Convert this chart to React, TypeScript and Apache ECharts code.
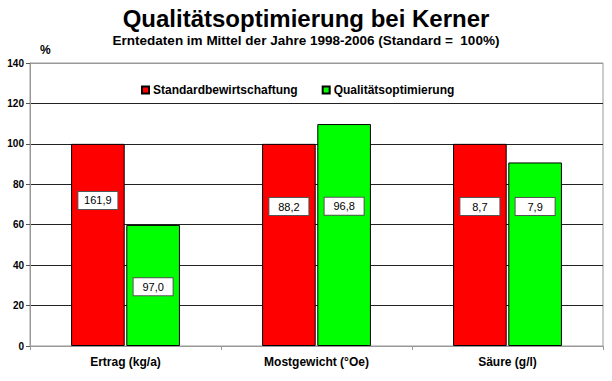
import React, { useEffect, useRef } from "react";
import * as echarts from "echarts";

const categories = ["Ertrag (kg/a)", "Mostgewicht (°Oe)", "Säure (g/l)"];
const seriesNames = ["Standardbewirtschaftung", "Qualitätsoptimierung"];
const standardPercent = [100, 100, 100];
const optimizedPercent = [59.9, 109.8, 90.8];
const standardAbsolute = [161.9, 88.2, 8.7];
const optimizedAbsolute = [97.0, 96.8, 7.9];
const yTicks = [0, 20, 40, 60, 80, 100, 120, 140];

// label placement inside the bars (fraction from the bar top)
const standardLabelPos = ["28%", "31%", "31%"];
const optimizedLabelPos = ["51%", "37%", "24%"];

const fmt = (v: number) => v.toFixed(1).replace(".", ",");
const FONT = "'Liberation Sans', Arial, sans-serif";

const labelStyle = {
  show: true,
  align: "center",
  verticalAlign: "middle",
  backgroundColor: "#fff",
  borderColor: "#555",
  borderWidth: 1,
  padding: [3, 2],
  width: 35,
  lineHeight: 11,
  fontSize: 11,
  color: "#000",
  fontFamily: FONT,
};

export default function App() {
  const ref = useRef<HTMLDivElement>(null);
  useEffect(() => {
    const chart = echarts.init(ref.current!, null, { renderer: "svg" });
    chart.setOption({
      animation: false,
      backgroundColor: "#fff",
      textStyle: { fontFamily: FONT },
      title: {
        text: "Qualitätsoptimierung bei Kerner",
        subtext: "Erntedaten im Mittel der Jahre 1998-2006 (Standard =  100%)",
        left: "center",
        top: 1,
        itemGap: 3,
        textStyle: { fontSize: 24, fontWeight: "bold", color: "#000", fontFamily: FONT },
        subtextStyle: { fontSize: 13.5, fontWeight: "bold", color: "#000", fontFamily: FONT },
      },
      graphic: [
        {
          type: "text",
          left: 40,
          top: 44,
          style: { text: "%", fontSize: 12, fontWeight: "bold", fill: "#000", fontFamily: FONT },
        },
      ],
      legend: {
        data: seriesNames,
        left: 136,
        top: 79,
        itemWidth: 7,
        itemHeight: 7,
        itemGap: 24,
        icon: "rect",
        textStyle: { fontSize: 12, fontWeight: "bold", color: "#000", fontFamily: FONT, padding: [0, 0, 0, -1] },
      },
      grid: {
        left: 30,
        right: 9,
        top: 63,
        bottom: 35,
        show: true,
        borderColor: "#999",
        borderWidth: 1,
      },
      xAxis: {
        type: "category",
        data: categories,
        axisLine: { lineStyle: { color: "#999", width: 1 } },
        axisTick: { show: true, length: 4, lineStyle: { color: "#999" } },
        axisLabel: { fontSize: 12, fontWeight: "bold", color: "#000", margin: 10, fontFamily: FONT },
      },
      yAxis: {
        type: "value",
        min: yTicks[0],
        max: yTicks[yTicks.length - 1],
        interval: 20,
        axisLine: { show: true, lineStyle: { color: "#999" } },
        axisTick: { show: true, length: 4, lineStyle: { color: "#555" } },
        axisLabel: { fontSize: 10, fontWeight: "bold", color: "#000", margin: 6, fontFamily: FONT },
        splitLine: {
          lineStyle: {
            color: ["#999", "#222", "#222", "#222", "#222", "#222", "#222", "#999"],
            width: 1,
          },
        },
      },
      series: [
        {
          name: seriesNames[0],
          type: "bar",
          barCategoryGap: "43%",
          barGap: "3%",
          itemStyle: { color: "#ff0000", borderColor: "#000", borderWidth: 1 },
          data: standardPercent.map((v, i) => ({
            value: v,
            label: {
              ...labelStyle,
              position: ["50%", standardLabelPos[i]],
              formatter: fmt(standardAbsolute[i]),
            },
          })),
        },
        {
          name: seriesNames[1],
          type: "bar",
          barCategoryGap: "43%",
          barGap: "3%",
          itemStyle: { color: "#00ff00", borderColor: "#000", borderWidth: 1 },
          data: optimizedPercent.map((v, i) => ({
            value: v,
            label: {
              ...labelStyle,
              position: ["50%", optimizedLabelPos[i]],
              formatter: fmt(optimizedAbsolute[i]),
            },
          })),
        },
      ],
    });
    return () => chart.dispose();
  }, []);
  return <div ref={ref} style={{ width: 612, height: 381, position: "fixed", left: 0, top: 0 }} />;
}
